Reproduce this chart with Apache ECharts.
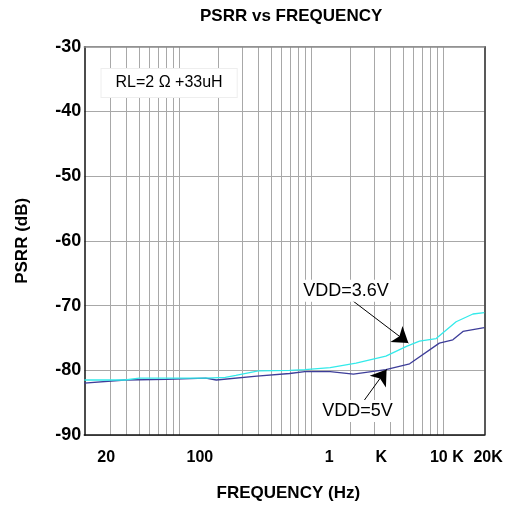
<!DOCTYPE html>
<html><head><meta charset="utf-8">
<script src="https://cdn.jsdelivr.net/npm/echarts@6/dist/echarts.min.js"></script>
<style>html,body{margin:0;padding:0;background:#fff}#c{width:515px;height:507px}</style>
</head><body><div id="c"></div>
<script>
// ---- data ----
const vdd36 = [[19.2,-81.5],[39,-81.5],[50,-81.2],[100,-81.2],[160,-81.2],[225,-81.1],[270,-80.8],[400,-80.1],[690,-80.0],[900,-79.9],[1400,-79.6],[2200,-78.9],[3700,-77.8],[5300,-76.3],[6650,-75.5],[8900,-75.1],[12600,-72.5],[16900,-71.3],[20600,-71.1]];
const vdd5 = [[19.2,-82.0],[39,-81.5],[80,-81.4],[160,-81.2],[192,-81.5],[390,-80.9],[690,-80.5],[900,-80.2],[1400,-80.2],[2100,-80.6],[3700,-79.9],[5600,-79.0],[9400,-75.8],[11900,-75.3],[14200,-74.0],[20600,-73.4]];
const gridFreqs = [30,40,50,60,70,80,90,100,200,300,400,500,600,700,800,900,1000,2000,3000,4000,5000,6000,7000,8000,9000,10000];
const labelFreqs = [20,100,1000,10000,20000];
const labelTexts = ['{s20| }{t|20}','{s100| }{t|100}','{s1k| }{t|1}{g1k| }{t|K}','{s10k| }{t|10 K}','{s20k| }{t|20K}'];
const noteRL = {text:'RL=2 Ω +33uH', at:[84.3,-35.6]};
const note36 = {text:'VDD=3.6V', at:[1848,-67.7], from:[1982,-68.95], to:[5478,-75.8]};
const note5 = {text:'VDD=5V', at:[2259,-86.3], from:[2429,-85.17], to:[3746,-79.86]};

const FF = '"Liberation Sans", Arial, sans-serif';
const chart = echarts.init(document.getElementById('c'));
const tok = {fontSize:16,fontWeight:'bold',color:'#000',fontFamily:FF};
chart.setOption({
  animation:false,
  backgroundColor:'#fff',
  title:{text:'PSRR vs FREQUENCY',left:200,top:8,padding:0,
    textStyle:{fontSize:17,fontWeight:'bold',color:'#000',fontFamily:FF}},
  grid:{left:84.3,right:30.7,top:46.7,bottom:67,containLabel:false},
  xAxis:[{
    type:'log',logBase:10,min:19.2,max:20600,
    axisLine:{show:true,lineStyle:{color:'#111',width:1.5}},
    axisTick:{show:false,customValues:gridFreqs},
    splitLine:{show:true,lineStyle:{color:'#a8a8a8',width:1}},
    minorSplitLine:{show:false},
    axisLabel:{customValues:labelFreqs,margin:15,
      formatter:function(v){const i=labelFreqs.findIndex(f=>Math.abs(f-v)/f<1e-6);return i>=0?labelTexts[i]:'';},
      rich:{t:tok,s20:{width:39},s100:{width:42},s1k:{width:90},g1k:{width:42},s10k:{width:8},s20k:{width:11}}},
    name:'FREQUENCY (Hz)',nameLocation:'middle',nameGap:50,
    nameTextStyle:{fontSize:17,fontWeight:'bold',color:'#000',fontFamily:FF,padding:[0,0,0,8]}
  },{
    type:'value',position:'top',
    axisLine:{show:true,onZero:false,lineStyle:{color:'#8a8a8a',width:1.5}},
    axisTick:{show:false},axisLabel:{show:false},splitLine:{show:false}
  }],
  yAxis:[{
    type:'value',min:-90,max:-30,interval:10,
    axisLine:{show:true,lineStyle:{color:'#111',width:1.5}},
    axisTick:{show:false},
    splitLine:{show:true,lineStyle:{color:'#a8a8a8',width:1}},
    axisLabel:{margin:3,fontSize:18,fontWeight:'bold',color:'#000',fontFamily:FF},
    name:'PSRR (dB)',nameLocation:'middle',nameGap:53,
    nameTextStyle:{fontSize:17,fontWeight:'bold',color:'#000',fontFamily:FF,padding:[0,0,0,0]}
  },{
    type:'value',position:'right',
    axisLine:{show:true,onZero:false,lineStyle:{color:'#222',width:1.5}},
    axisTick:{show:false},axisLabel:{show:false},splitLine:{show:false}
  }],
  series:[{
    name:'VDD=5V',type:'line',data:vdd5,showSymbol:false,symbol:'none',
    lineStyle:{color:'#3d3d99',width:1.3},z:3,
    markLine:{silent:true,symbol:['none','arrow'],symbolSize:15,animation:false,
      lineStyle:{color:'#000',width:1,type:'solid'},label:{show:false},
      data:[[{coord:note5.from},{coord:note5.to}],[{coord:note36.from},{coord:note36.to}]]},
    markPoint:{silent:true,symbol:'rect',symbolSize:0,animation:false,
      data:[note5,note36].map(n=>({coord:n.at,value:n.text,
        label:{show:true,position:'inside',formatter:n.text,fontSize:18,color:'#000',fontFamily:FF,
          backgroundColor:'#fff',padding:[2,3]}}))}
  },{
    name:'VDD=3.6V',type:'line',data:vdd36,showSymbol:false,symbol:'none',
    lineStyle:{color:'#33eaea',width:1.3},z:4,
    markPoint:{silent:true,symbol:'rect',symbolSize:0,animation:false,
      data:[{coord:noteRL.at,value:noteRL.text,
        label:{show:true,position:'inside',formatter:noteRL.text,fontSize:16,color:'#000',fontFamily:FF,
          backgroundColor:'#fff',borderColor:'#eeeeee',borderWidth:1,padding:[6,14]}}]}
  }]
});
</script></body></html>
